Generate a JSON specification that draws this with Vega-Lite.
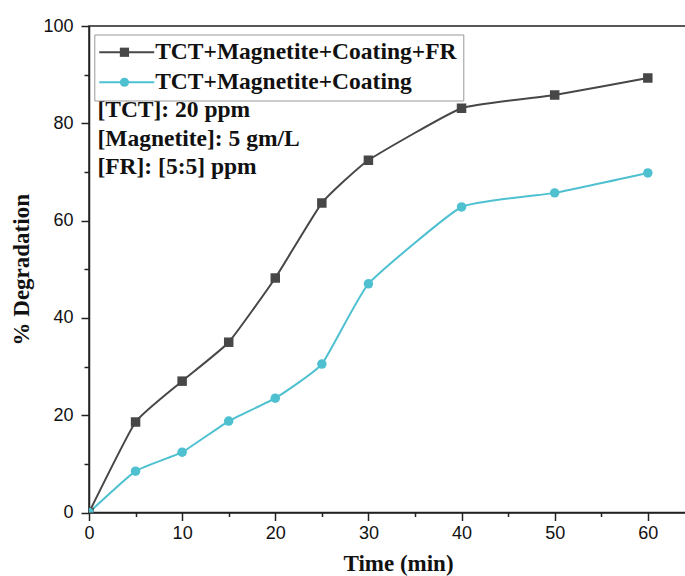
{
  "$schema": "https://vega.github.io/schema/vega-lite/v6.json",
  "width": 597,
  "height": 486.5,
  "autosize": "none",
  "padding": {"left": 89, "top": 26, "right": 0, "bottom": 63.5},
  "background": "white",
  "config": {
    "view": {"stroke": "#222", "strokeWidth": 1.5},
    "axis": {
      "grid": false,
      "domainColor": "#222",
      "domainWidth": 1.5,
      "tickColor": "#222",
      "tickWidth": 1.5,
      "labelFont": "Liberation Sans",
      "labelFontSize": 18,
      "labelColor": "#111",
      "titleFont": "Liberation Serif",
      "titleFontSize": 23,
      "titleFontWeight": "bold",
      "titleColor": "#111"
    }
  },
  "datasets": {
    "degradation": [
      {"time": 0, "deg": 0, "series": "TCT+Magnetite+Coating+FR"},
      {"time": 5, "deg": 18.6, "series": "TCT+Magnetite+Coating+FR"},
      {"time": 10, "deg": 27.0, "series": "TCT+Magnetite+Coating+FR"},
      {"time": 15, "deg": 35.0, "series": "TCT+Magnetite+Coating+FR"},
      {"time": 20, "deg": 48.2, "series": "TCT+Magnetite+Coating+FR"},
      {"time": 25, "deg": 63.6, "series": "TCT+Magnetite+Coating+FR"},
      {"time": 30, "deg": 72.4, "series": "TCT+Magnetite+Coating+FR"},
      {"time": 40, "deg": 83.1, "series": "TCT+Magnetite+Coating+FR"},
      {"time": 50, "deg": 85.8, "series": "TCT+Magnetite+Coating+FR"},
      {"time": 60, "deg": 89.3, "series": "TCT+Magnetite+Coating+FR"},
      {"time": 0, "deg": 0, "series": "TCT+Magnetite+Coating"},
      {"time": 5, "deg": 8.5, "series": "TCT+Magnetite+Coating"},
      {"time": 10, "deg": 12.4, "series": "TCT+Magnetite+Coating"},
      {"time": 15, "deg": 18.8, "series": "TCT+Magnetite+Coating"},
      {"time": 20, "deg": 23.5, "series": "TCT+Magnetite+Coating"},
      {"time": 25, "deg": 30.5, "series": "TCT+Magnetite+Coating"},
      {"time": 30, "deg": 47.0, "series": "TCT+Magnetite+Coating"},
      {"time": 40, "deg": 62.8, "series": "TCT+Magnetite+Coating"},
      {"time": 50, "deg": 65.7, "series": "TCT+Magnetite+Coating"},
      {"time": 60, "deg": 69.8, "series": "TCT+Magnetite+Coating"}
    ],
    "notes1": [{"note": "[TCT]: 20 ppm"}],
    "notes2": [{"note": "[Magnetite]: 5 gm/L"}],
    "notes3": [{"note": "[FR]: [5:5] ppm"}]
  },
  "layer": [
    {
      "data": {"name": "degradation"},
      "mark": {"type": "line", "strokeWidth": 2, "interpolate": "cardinal", "tension": 0.6, "clip": true},
      "encoding": {
        "x": {
          "field": "time", "type": "quantitative",
          "scale": {"domain": [0, 64.1], "nice": false, "zero": false},
          "axis": {
            "title": "Time (min)",
            "values": [0, 5, 10, 15, 20, 25, 30, 35, 40, 45, 50, 55, 60],
            "labelExpr": "datum.value % 10 === 0 ? datum.label : ''",
            "tickSize": {"condition": {"test": "datum.value % 10 === 0", "value": 8}, "value": 4},
            "labelPadding": 4,
            "titlePadding": 10,
            "titleX": 309,
            "labelFlush": false
          }
        },
        "y": {
          "field": "deg", "type": "quantitative",
          "scale": {"domain": [0, 100], "nice": false},
          "axis": {
            "title": "% Degradation",
            "values": [0, 10, 20, 30, 40, 50, 60, 70, 80, 90, 100],
            "labelExpr": "datum.value % 20 === 0 ? datum.label : ''",
            "tickSize": {"condition": {"test": "datum.value % 20 === 0", "value": 8}, "value": 5},
            "labelPadding": 8,
            "titlePadding": 9,
            "labelFlush": false
          }
        },
        "stroke": {
          "field": "series", "type": "nominal",
          "scale": {"domain": ["TCT+Magnetite+Coating+FR", "TCT+Magnetite+Coating"], "range": ["#474747", "#4ec0d0"]},
          "legend": {
            "orient": "none", "legendX": 5.3, "legendY": 8.5, "title": null,
            "strokeColor": "#999", "padding": 6,
            "symbolType": "M-12,0H12", "symbolSize": 21, "symbolStrokeWidth": 2, "symbolOffset": 14.7,
            "labelFont": "Liberation Serif", "labelFontSize": 23.5, "labelFontWeight": "bold",
            "labelColor": "#111", "labelOffset": 16.7, "rowPadding": 5, "labelLimit": 500
          }
        }
      }
    },
    {
      "data": {"name": "degradation"},
      "mark": {"type": "point", "filled": true, "opacity": 1, "size": 90, "clip": true},
      "encoding": {
        "x": {"field": "time", "type": "quantitative"},
        "y": {"field": "deg", "type": "quantitative"},
        "fill": {
          "field": "series", "type": "nominal", "sort": "descending",
          "scale": {"range": ["#474747", "#4ec0d0"]},
          "legend": {
            "orient": "none", "legendX": 5.3, "legendY": 8.5, "title": null,
            "padding": 6, "symbolSize": 85, "symbolStrokeWidth": 0, "symbolOffset": 12.4,
            "labelFont": "Liberation Serif", "labelFontSize": 23.5, "labelFontWeight": "bold",
            "labelOpacity": 0, "labelOffset": 16.7, "rowPadding": 5, "labelLimit": 500
          }
        },
        "shape": {
          "field": "series", "type": "nominal", "sort": "descending",
          "scale": {"range": ["square", "circle"]},
          "legend": {
            "orient": "none", "legendX": 5.3, "legendY": 8.5, "title": null,
            "padding": 6, "symbolSize": 85, "symbolStrokeWidth": 0, "symbolOffset": 12.4,
            "labelFont": "Liberation Serif", "labelFontSize": 23.5, "labelFontWeight": "bold",
            "labelOpacity": 0, "labelOffset": 16.7, "rowPadding": 5, "labelLimit": 500
          }
        }
      }
    },
    {
      "data": {"name": "notes1"},
      "mark": {"type": "text", "align": "left", "baseline": "middle", "font": "Liberation Serif", "fontSize": 23.5, "fontWeight": "bold", "color": "#111"},
      "encoding": {"x": {"datum": 0.9, "type": "quantitative"}, "y": {"datum": 82.7, "type": "quantitative"}, "text": {"field": "note"}}
    },
    {
      "data": {"name": "notes2"},
      "mark": {"type": "text", "align": "left", "baseline": "middle", "font": "Liberation Serif", "fontSize": 23.5, "fontWeight": "bold", "color": "#111"},
      "encoding": {"x": {"datum": 0.9, "type": "quantitative"}, "y": {"datum": 76.7, "type": "quantitative"}, "text": {"field": "note"}}
    },
    {
      "data": {"name": "notes3"},
      "mark": {"type": "text", "align": "left", "baseline": "middle", "font": "Liberation Serif", "fontSize": 23.5, "fontWeight": "bold", "color": "#111"},
      "encoding": {"x": {"datum": 0.9, "type": "quantitative"}, "y": {"datum": 71.0, "type": "quantitative"}, "text": {"field": "note"}}
    }
  ]
}
